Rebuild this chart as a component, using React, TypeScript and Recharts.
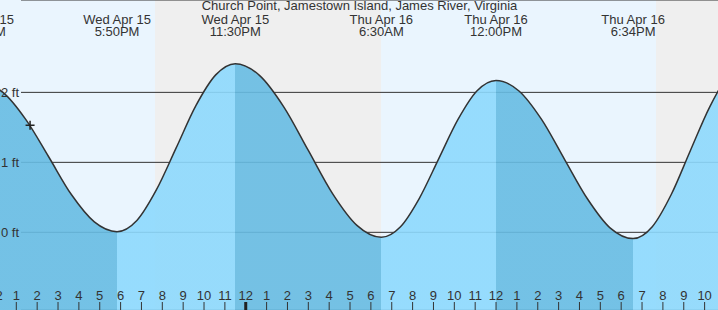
import React from 'react';
import { AreaChart, Area, XAxis, YAxis, CartesianGrid, ReferenceArea, ReferenceLine, ReferenceDot } from 'recharts';

// hours counted from Wed Apr 15, 00:00
const tideTimes = [11.27, 12.36, 13.46, 14.55, 15.64, 16.74, 17.83, 18.78, 19.72, 20.67, 21.61, 22.56, 23.5,
  24.67, 25.83, 27.0, 28.17, 29.33, 30.5, 31.42, 32.33, 33.25, 34.17, 35.08, 36.0,
  37.1, 38.19, 39.29, 40.38, 41.48, 42.57, 43.49, 44.4, 45.32, 46.24, 47.15, 48.07];
const tideHeights = [2.14, 2.0, 1.61, 1.08, 0.54, 0.15, 0.01, 0.17, 0.61, 1.21, 1.81, 2.25, 2.41,
  2.24, 1.79, 1.17, 0.55, 0.1, -0.07, 0.08, 0.49, 1.05, 1.61, 2.02, 2.17,
  2.02, 1.61, 1.04, 0.48, 0.06, -0.09, 0.08, 0.54, 1.17, 1.79, 2.25, 2.42];

// high / low tides (first one is a high)
const extremeTimes = [11.27, 17.83, 23.5, 30.5, 36.0, 42.57, 48.07];
const labelDates = ['Wed Apr 15', 'Wed Apr 15', 'Wed Apr 15', 'Thu Apr 16', 'Thu Apr 16', 'Thu Apr 16'];
const labelClock = ['11:16AM', '5:50PM', '11:30PM', '6:30AM', '12:00PM', '6:34PM'];

const nightStart = [19.65, 43.67];
const nightEnd = [30.49, 48.08];

const hourTicks = [11, 12, 13, 14, 15, 16, 17, 18, 19, 20, 21, 22, 23, 24, 25, 26, 27, 28, 29, 30,
  31, 32, 33, 34, 35, 36, 37, 38, 39, 40, 41, 42, 43, 44, 45, 46, 47, 48];
const footTicks = [0, 1, 2];

const nowTime = 13.66;
const nowHeight = 1.53;

const FONT = '"Liberation Sans", Arial, sans-serif';
const TEXT = '#333';
const SKY = '#eaf5fe';
const NIGHT = '#efefef';
const FALLING = '#67bce3';
const RISING = '#8dd9fd';

const data = tideTimes.map((t, i) => ({ t, h: tideHeights[i] }));

const first = tideTimes[0];
const span = tideTimes[tideTimes.length - 1] - first;
const stops: { offset: number; color: string }[] = [];
for (let i = 0; i < extremeTimes.length - 1; i++) {
  const color = i % 2 === 0 ? FALLING : RISING;
  stops.push({ offset: (extremeTimes[i] - first) / span, color });
  stops.push({ offset: (extremeTimes[i + 1] - first) / span, color });
}

const HourTick = (props: any) => {
  const { x, y, payload } = props;
  const v = payload.value;
  const label = v % 12 === 0 ? 12 : v % 12;
  return (
    <g>
      <text x={x} y={y} textAnchor="middle" fill={TEXT} fontSize={13} fontFamily={FONT}>{label}</text>
      {v % 24 === 0 && <rect x={x - 1.5} y={y + 2} width={3} height={8} fill="#222" />}
    </g>
  );
};

const TideLabel = (idx: number) => (props: any) => {
  const x = props.viewBox.x;
  return (
    <g fill={TEXT} fontSize={13} fontFamily={FONT} textAnchor="middle">
      <text x={x} y={24}>{labelDates[idx]}</text>
      <text x={x} y={36}>{labelClock[idx]}</text>
    </g>
  );
};

const Cross = (props: any) => {
  const { cx, cy } = props;
  return <path d={`M${cx - 4.5},${cy}H${cx + 4.5}M${cx},${cy - 4.5}V${cy + 4.5}`} stroke="#222" strokeWidth={1.5} />;
};

export default function App() {
  return (
    <div style={{ position: 'absolute', left: 0, top: 0, width: 718, height: 310, overflow: 'hidden', background: SKY }}>
      <div style={{ position: 'absolute', left: -30, top: 0 }}>
        <AreaChart width={778} height={310} data={data} margin={{ top: 0, right: 0, bottom: 0, left: 0 }}>
          <defs>
            <linearGradient id="tideFill" x1="0" y1="0" x2="1" y2="0">
              {stops.map((s, i) => <stop key={i} offset={s.offset} stopColor={s.color} />)}
            </linearGradient>
          </defs>
          {nightStart.map((s, i) => (
            <ReferenceArea key={i} x1={s} x2={nightEnd[i]} fill={NIGHT} fillOpacity={1} stroke="none" ifOverflow="hidden" zIndex={-200} />
          ))}
          <CartesianGrid vertical={false} stroke={TEXT} strokeDasharray="" x={51} width={727} />
          <XAxis
            dataKey="t"
            type="number"
            domain={[10.78, 48.08]}
            allowDataOverflow
            ticks={hourTicks}
            interval={0}
            orientation="bottom"
            mirror
            axisLine={false}
            tickSize={8}
            tickMargin={2}
            tickLine={{ stroke: TEXT }}
            tick={<HourTick />}
          />
          <YAxis
            type="number"
            domain={[-1.11, 3.32]}
            allowDataOverflow
            ticks={footTicks}
            mirror
            axisLine={false}
            tickLine={false}
            tickSize={0}
            tickMargin={31}
            tickFormatter={(v: number) => `${v} ft`}
            tick={{ fill: TEXT, fontSize: 13, fontFamily: FONT }}
          />
          <Area
            type="monotone"
            dataKey="h"
            stroke="#333"
            strokeWidth={1.5}
            fill="url(#tideFill)"
            fillOpacity={0.9}
            baseValue="dataMin"
            dot={false}
            activeDot={false}
            isAnimationActive={false}
          />
          {labelDates.map((_, i) => (
            <ReferenceLine key={i} x={extremeTimes[i]} stroke="none" label={{ content: TideLabel(i) }} />
          ))}
          <ReferenceDot x={nowTime} y={nowHeight} shape={<Cross />} />
        </AreaChart>
      </div>
      <div style={{ position: 'absolute', top: -1, left: 0, width: 719, textAlign: 'center', fontFamily: FONT, fontSize: 13, lineHeight: '14px', color: TEXT }}>
        Church Point, Jamestown Island, James River, Virginia
      </div>
    </div>
  );
}
